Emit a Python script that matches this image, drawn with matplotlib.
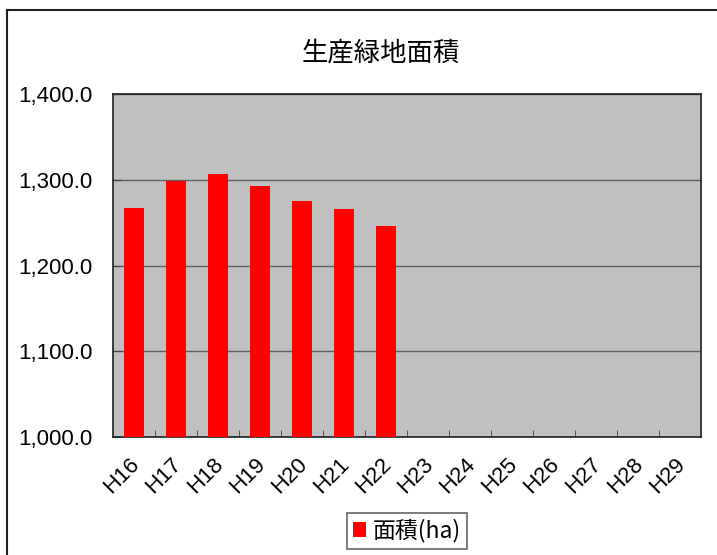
import matplotlib.pyplot as plt
import matplotlib.transforms as mtransforms
from matplotlib.lines import Line2D
from matplotlib.ticker import FuncFormatter, FixedLocator
import numpy as np

plt.rcParams['font.family'] = ['Liberation Sans', 'Noto Sans CJK JP', 'DejaVu Sans']

years = ['H16', 'H17', 'H18', 'H19', 'H20', 'H21', 'H22',
         'H23', 'H24', 'H25', 'H26', 'H27', 'H28', 'H29']
area = [1267.4, 1298.5, 1306.7, 1292.4, 1275.2, 1265.9, 1245.7]

fig = plt.figure(figsize=(7.17, 5.55), dpi=100)
ax = fig.add_axes([0.1576, 0.2126, 0.8201, 0.6180])
ax.set_facecolor('#c0c0c0')

x = np.arange(len(years))
bars = ax.bar(x[:len(area)], [v - 1000 for v in area], bottom=1000,
              width=0.46, color='#ff0000', zorder=3, label='面積(ha)')

ax.set_xlim(-0.5, len(years) - 0.5)
ax.set_ylim(1000, 1400)
ax.set_yticks([1000, 1100, 1200, 1300, 1400])
ax.yaxis.set_major_formatter(FuncFormatter(lambda v, p: f'{v:,.1f}'))
ax.grid(axis='y', color='#606060', linewidth=1.0, zorder=1)

ax.set_xticks(x)
ax.set_xticklabels(years, rotation=45, ha='right', va='top', rotation_mode='anchor')
ax.xaxis.set_minor_locator(FixedLocator(x[:-1] + 0.5))
ax.tick_params(axis='x', which='major', length=0, pad=12, labelsize=16)
ax.tick_params(axis='x', which='minor', direction='in', length=5, color='#404040')
ax.tick_params(axis='y', direction='in', length=6, pad=15, labelsize=16, color='#404040')

# nudge rotated labels slightly left
shift = mtransforms.ScaledTranslation(-5 / 100, 0, fig.dpi_scale_trans)
for lbl in ax.get_xticklabels():
    lbl.set_transform(lbl.get_transform() + shift)

for s in ax.spines.values():
    s.set_color('#202020')
    s.set_linewidth(1.2)

fig.text(381 / 717, 1 - 53 / 555, '生産緑地面積', ha='center', va='center',
         fontsize=19, family=['Noto Sans CJK JP'])

leg = fig.legend(handles=[bars], labels=['面積(ha)'], loc='center',
                 bbox_to_anchor=(407 / 717, 1 - 531 / 555),
                 handlelength=0.6, handleheight=0.6, handletextpad=0.3,
                 fancybox=False, edgecolor='#404040', borderpad=0.25,
                 prop={'family': ['Noto Sans CJK JP'], 'size': 16.5})
leg.get_frame().set_linewidth(1.2)

# outer chart frame (left and top edges)
fig.add_artist(Line2D([7 / 717, 7 / 717], [0, 1 - 9.5 / 555], color='#202020', lw=1.5))
fig.add_artist(Line2D([7 / 717, 1], [1 - 9.5 / 555, 1 - 9.5 / 555], color='#202020', lw=1.5))

fig.savefig('out.png', dpi=100)
